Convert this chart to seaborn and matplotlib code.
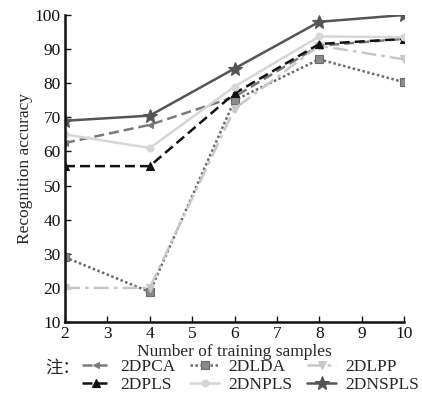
import matplotlib
matplotlib.use("Agg")
import matplotlib.pyplot as plt
import seaborn as sns
import pandas as pd

samples = [2, 4, 6, 8, 10]
pca = [62.5, 67.8, 76.0, 91.0, 93.0]
lda = [29.0, 18.8, 75.0, 87.0, 80.3]
lpp = [20.0, 20.0, 72.5, 91.0, 87.0]
pls = [55.7, 55.7, 77.0, 91.5, 93.0]
npls = [65.0, 61.0, 79.0, 93.7, 93.5]
nspls = [69.0, 70.5, 84.3, 98.0, 100.0]
names = ["2DPCA", "2DLDA", "2DLPP", "2DPLS", "2DNPLS", "2DNSPLS"]
xticks = [2, 3, 4, 5, 6, 7, 8, 9, 10]
yticks = [10, 20, 30, 40, 50, 60, 70, 80, 90, 100]

series = dict(zip(names, [pca, lda, lpp, pls, npls, nspls]))

sns.set_theme(style="ticks")
plt.rcParams["font.family"] = ["Liberation Serif", "Noto Sans CJK SC", "DejaVu Sans"]

styles = {
    "2DPCA": dict(color="#7a7a7a", linestyle=(0, (4, 2)), marker="<", markersize=5),
    "2DLDA": dict(color="#6a6a6a", linestyle=(0, (1, 1)), marker="s", markersize=5.5,
                  markerfacecolor="#8a8a8a"),
    "2DLPP": dict(color="#c8c8c8", linestyle=(0, (6, 2, 1.5, 2)), marker="v", markersize=6),
    "2DPLS": dict(color="#111111", linestyle=(0, (4, 2)), marker="^", markersize=6),
    "2DNPLS": dict(color="#d6d6d6", linestyle="-", marker="o", markersize=5),
    "2DNSPLS": dict(color="#555555", linestyle="-", marker="*", markersize=10),
}

fig = plt.figure(figsize=(4.22, 3.96), dpi=100)
ax = fig.add_axes([65 / 422, 1 - 322 / 396, (404 - 65) / 422, (322 - 15) / 396])

for name in names:
    df = pd.DataFrame({"x": samples, "y": series[name]})
    st = styles[name]
    sns.lineplot(data=df, x="x", y="y", ax=ax, label=name, linewidth=1.8,
                 markeredgewidth=0.8, markeredgecolor=st["color"], **st)

ax.set_xlim(2, 10)
ax.set_ylim(10, 100)
ax.set_xticks(xticks)
ax.set_yticks(yticks)
ax.tick_params(direction="in", length=4, width=1, labelsize=12.5, colors="#111111")
ax.tick_params(axis="x", pad=3)
ax.tick_params(axis="y", pad=3)
for s in ["top", "right"]:
    ax.spines[s].set_visible(False)
for s in ["left", "bottom"]:
    ax.spines[s].set_linewidth(1.8)
    ax.spines[s].set_color("#111111")
ax.set_xlabel("Number of training samples", fontsize=12.5, labelpad=1.5)
ax.set_ylabel("Recognition accuracy", fontsize=12.5, labelpad=1)

ax.get_legend().remove()
handles, labels = ax.get_legend_handles_labels()
hmap = dict(zip(labels, handles))
order = ["2DPCA", "2DPLS", "2DLDA", "2DNPLS", "2DLPP", "2DNSPLS"]
fig.legend([hmap[o] for o in order], order, ncol=3, loc="upper left",
           bbox_to_anchor=(82 / 422, 1 - 359 / 396), frameon=False,
           fontsize=12.5, handlelength=1.65, handletextpad=0.55, columnspacing=0.85,
           labelspacing=0.12, borderpad=0.0, borderaxespad=0.0)
fig.text(45 / 422, 1 - 368 / 396, "注：", fontsize=12.5, va="center", ha="left",
         family=["Noto Sans CJK SC", "DejaVu Sans"])

fig.savefig("out.png", dpi=100)
